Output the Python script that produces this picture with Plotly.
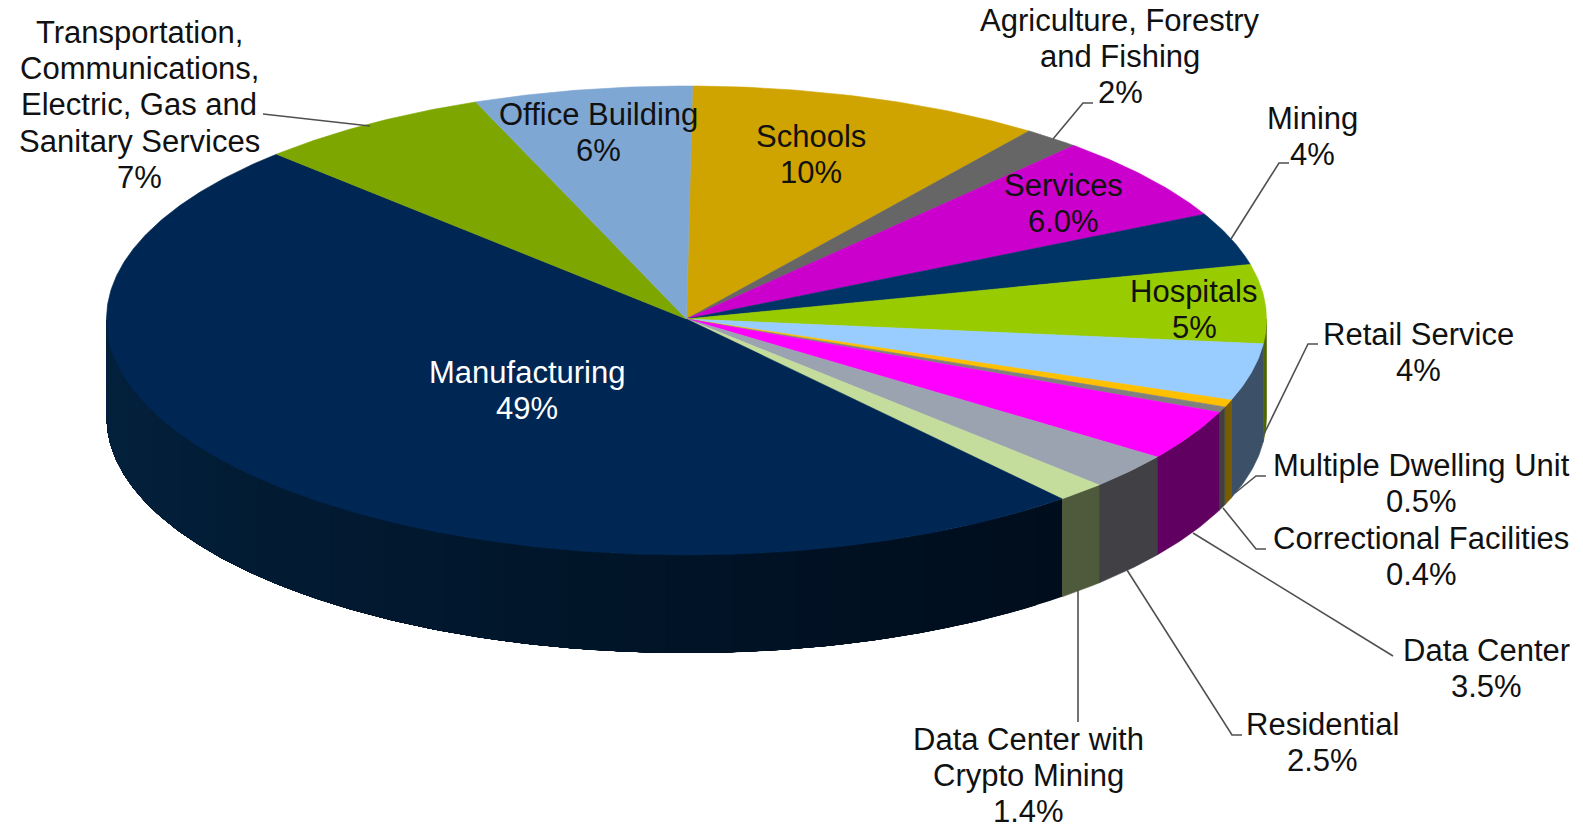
import math
import plotly.graph_objects as go

# ---- data, clockwise from just past 12 o'clock ----
categories = ["Schools", "Agriculture, Forestry\nand Fishing", "Services", "Mining", "Hospitals",
              "Retail Service", "Multiple Dwelling Unit", "Correctional Facilities", "Data Center",
              "Residential", "Data Center with\nCrypto Mining", "Manufacturing",
              "Transportation,\nCommunications,\nElectric, Gas and\nSanitary Services", "Office Building"]
# slice sizes as drawn in the picture; the printed labels are rounded
values = [10, 1.6, 6, 3.7, 5.5, 3.95, 0.5, 0.4, 3.5, 2.5, 1.4, 49.25, 6.65, 6.15]
value_labels = ["10%", "2%", "6.0%", "4%", "5%", "4%", "0.5%", "0.4%", "3.5%", "2.5%", "1.4%", "49%", "7%", "6%"]

# ---- styles ----
top_colors = ["#CFA400", "#666666", "#CC00CC", "#003366", "#99CC00", "#99CCFF", "#FFC000", "#808080",
              "#FF00FF", "#9CA3B0", "#C4DD9C", "#002653", "#7EA600", "#7FA7D4"]
wall_colors = ["#6B5500", "#333333", "#660066", "#001A33", "#4D6600", "#3C5068", "#7A5C00", "#404040",
               "#600060", "#404045", "#4F5A3C", "#00142A", "#3F5300", "#405468"]
label_xy = [(811, 136), (1120, 20), (1063, 185), (1312, 118), (1194, 291), (1418, 334), (1421, 465),
            (1421, 538), (1486, 650), (1322, 724), (1028, 739), (527, 372), (139, 32), (598, 114)]
label_colors = ["#111111"] * 11 + ["#FFFFFF"] + ["#111111"] * 2
leaders = [
    [(263, 114), (370, 126)],
    [(1093, 103), (1083, 103), (1053, 139)],
    [(1318, 344), (1308, 344), (1263, 436)],
    [(1266, 476), (1256, 476), (1235, 493)],
    [(1266, 549), (1256, 549), (1223, 508)],
    [(1393, 656), (1193, 533)],
    [(1242, 735), (1232, 735), (1127, 570)],
    [(1078, 722), (1078, 589)],
    [(1289, 163), (1279, 163), (1231, 239)],
]
CX, CY, RX, RY, DEPTH = 686.5, 319, 580, 233, 98
RY_FRONT = 236
START_DEG = 0.6
FONT = "Liberation Sans"
FS = 31
LINE = 36.4


def rim(t, dy=0):
    c = math.cos(t)
    return CX + RX * math.sin(t), CY - (RY if c > 0 else RY_FRONT) * c + dy


def arc(a, b, dy=0, step=math.radians(0.5)):
    n = max(2, int(abs(b - a) / step) + 1)
    return [rim(a + (b - a) * i / (n - 1), dy) for i in range(n)]


def mix(c1, c2, f):
    p = [int(c1[i:i + 2], 16) for i in (1, 3, 5)]
    q = [int(c2[i:i + 2], 16) for i in (1, 3, 5)]
    return "#%02X%02X%02X" % tuple(round(u + (v - u) * f) for u, v in zip(p, q))


def poly(fig, pts, color, stroke=0.6):
    xs = [p[0] for p in pts] + [pts[0][0]]
    ys = [p[1] for p in pts] + [pts[0][1]]
    fig.add_trace(go.Scatter(x=xs, y=ys, mode="lines", fill="toself", fillcolor=color,
                             line=dict(color=color, width=stroke), hoverinfo="skip", showlegend=False))


total = sum(values)
edges = [math.radians(START_DEG)]
for v in values:
    edges.append(edges[-1] + v / total * 2 * math.pi)

fig = go.Figure()

# side walls: only the front half of the rim is visible
for i, (a, b) in enumerate(zip(edges[:-1], edges[1:])):
    a2, b2 = max(a, math.pi / 2), min(b, 3 * math.pi / 2)
    if b2 <= a2:
        continue
    if categories[i] == "Manufacturing":
        # shading: each band runs on to the far end so no seam shows the page through
        bands = 40
        for k in range(bands):
            u = a2 + (b2 - a2) * k / bands
            poly(fig, arc(u, b2) + arc(b2, u, DEPTH), mix("#000D1C", "#03223F", k / (bands - 1)), stroke=0)
    else:
        poly(fig, arc(a2, b2) + arc(b2, a2, DEPTH), wall_colors[i])

# top face
for i, (a, b) in enumerate(zip(edges[:-1], edges[1:])):
    poly(fig, [(CX, CY)] + arc(a, b), top_colors[i])

# leader lines
for seg in leaders:
    fig.add_trace(go.Scatter(x=[p[0] for p in seg], y=[p[1] for p in seg], mode="lines",
                             line=dict(color="#505050", width=1.6), hoverinfo="skip", showlegend=False))

# labels, each text line placed on its own so the spacing is the reference's
for name, pct, (x, y), col in zip(categories, value_labels, label_xy, label_colors):
    for j, line in enumerate(name.split("\n") + [pct]):
        fig.add_annotation(x=x, y=y + j * LINE, text=line, showarrow=False, xanchor="center", yanchor="middle",
                           font=dict(family=FONT, size=FS, color=col))

fig.update_layout(width=1583, height=828, margin=dict(l=0, r=0, t=0, b=0), paper_bgcolor="white",
                  plot_bgcolor="white", showlegend=False,
                  xaxis=dict(range=[0, 1583], visible=False, fixedrange=True),
                  yaxis=dict(range=[828, 0], visible=False, fixedrange=True))
fig.write_html("out.html", config={"displayModeBar": False},
               post_script="document.body.style.margin='0';document.documentElement.style.overflow='hidden';")
